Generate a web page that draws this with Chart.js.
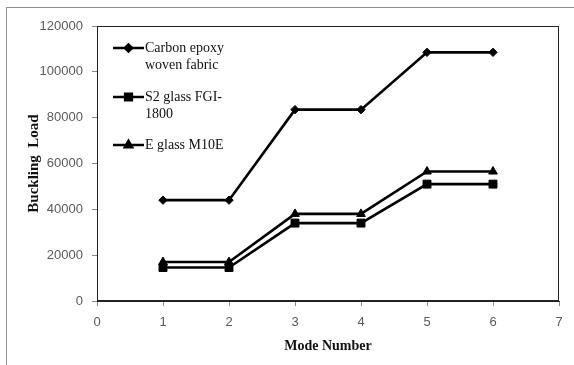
<!DOCTYPE html>
<html>
<head>
<meta charset="utf-8">
<script src="https://cdn.jsdelivr.net/npm/chart.js@4/dist/chart.umd.min.js"></script>
<style>
  html, body { margin: 0; padding: 0; background: #fff; }
  #wrap { position: relative; width: 574px; height: 365px; overflow: hidden; }
  #frame { position: absolute; left: 6px; top: 7px; width: 600px; height: 400px;
           border-left: 1px solid #8f8f8f; border-top: 1px solid #8f8f8f; }
  canvas { position: absolute; left: 0; top: 0; }
</style>
</head>
<body>
<div id="wrap">
  <div id="frame"></div>
  <canvas id="c" width="574" height="365"></canvas>
</div>
<script>
// ---- data ----
const modeNumbers = [1, 2, 3, 4, 5, 6];
const carbonEpoxy = [44000, 44000, 83500, 83500, 108500, 108500];
const s2Glass = [14600, 14600, 34000, 34000, 51000, 51000];
const eGlass = [17000, 17000, 38000, 38000, 56500, 56500];
const seriesNames = [["Carbon epoxy", "woven fabric"], ["S2 glass FGI-", "1800"], ["E glass M10E"]];
const xTitle = "Mode Number";
const yTitle = "Buckling  Load";

const pts = vals => modeNumbers.map((m, i) => ({ x: m, y: vals[i] }));

const styles = [
  { pointStyle: 'rectRot', radius: 4.2 },
  { pointStyle: 'rect', radius: 5.6 },
  { pointStyle: 'triangle', radius: 5 }
];

const frameBox = {
  id: 'frameBox',
  afterDatasetsDraw(chart) {
    const a = chart.chartArea, ctx = chart.ctx;
    ctx.save();
    ctx.strokeStyle = '#222';
    ctx.lineWidth = 1;
    ctx.strokeRect(Math.round(a.left) + 0.5, Math.round(a.top) + 0.5,
                   Math.round(a.right - a.left) - 1, Math.round(a.bottom - a.top) - 1);
    ctx.restore();
  }
};

const customLegend = {
  id: 'customLegend',
  afterDraw(chart) {
    const ctx = chart.ctx;
    const rows = [48, 97, 145];
    ctx.save();
    ctx.font = '14px "Liberation Serif", "Times New Roman", serif';
    ctx.textBaseline = 'middle';
    ctx.textAlign = 'left';
    seriesNames.forEach((lines, i) => {
      const y = rows[i];
      ctx.strokeStyle = '#000';
      ctx.lineWidth = 2.5;
      ctx.beginPath();
      ctx.moveTo(113, y);
      ctx.lineTo(144, y);
      ctx.stroke();
      ctx.fillStyle = '#000';
      Chart.helpers.drawPoint(ctx, {
        pointStyle: styles[i].pointStyle,
        radius: styles[i].radius * 0.85,
        rotation: 0,
        borderWidth: 1
      }, 128.5, y);
      ctx.fill();
      ctx.fillStyle = '#111';
      lines.forEach((t, k) => ctx.fillText(t, 145, y + k * 17));
    });
    ctx.restore();
  }
};

const mkDs = (label, vals, i) => ({
  label,
  data: pts(vals),
  showLine: true,
  borderColor: '#000',
  backgroundColor: '#000',
  borderWidth: 2.6,
  pointStyle: styles[i].pointStyle,
  pointRadius: styles[i].radius,
  pointBorderWidth: 1,
  pointBackgroundColor: '#000',
  pointBorderColor: '#000',
  tension: 0
});

new Chart(document.getElementById('c'), {
  type: 'scatter',
  data: {
    datasets: [
      mkDs(seriesNames[0].join(' '), carbonEpoxy, 0),
      mkDs(seriesNames[1].join(''), s2Glass, 1),
      mkDs(seriesNames[2].join(' '), eGlass, 2)
    ]
  },
  options: {
    responsive: false,
    animation: false,
    devicePixelRatio: 1,
    layout: { padding: { top: 26, right: 15, left: 0, bottom: 0 } },
    plugins: { legend: { display: false }, tooltip: { enabled: false } },
    scales: {
      x: {
        type: 'linear',
        min: 0, max: 7,
        afterFit: s => { s.height = 64; },
        ticks: { stepSize: 1, padding: 9, color: '#595959',
                 font: { family: '"Liberation Sans", Arial, sans-serif', size: 13 } },
        grid: { drawOnChartArea: false, drawTicks: true, tickLength: 5, color: '#8a8a8a' },
        border: { display: true, color: '#222', width: 1 },
        title: { display: true, text: xTitle, color: '#111',
                 font: { family: '"Liberation Serif", "Times New Roman", serif', size: 14, weight: 'bold' },
                 padding: { top: 0, bottom: 10 } }
      },
      y: {
        type: 'linear',
        min: 0, max: 120000,
        afterFit: s => { s.width = 97; },
        ticks: { stepSize: 20000, padding: 9, color: '#595959',
                 callback: v => String(v),
                 font: { family: '"Liberation Sans", Arial, sans-serif', size: 13 } },
        grid: { drawOnChartArea: false, drawTicks: true, tickLength: 5, color: '#8a8a8a' },
        border: { display: true, color: '#222', width: 1 },
        title: { display: true, text: yTitle, color: '#111',
                 font: { family: '"Liberation Serif", "Times New Roman", serif', size: 15, weight: 'bold' },
                 padding: { top: 25, bottom: 0 } }
      }
    }
  },
  plugins: [frameBox, customLegend]
});
</script>
</body>
</html>
